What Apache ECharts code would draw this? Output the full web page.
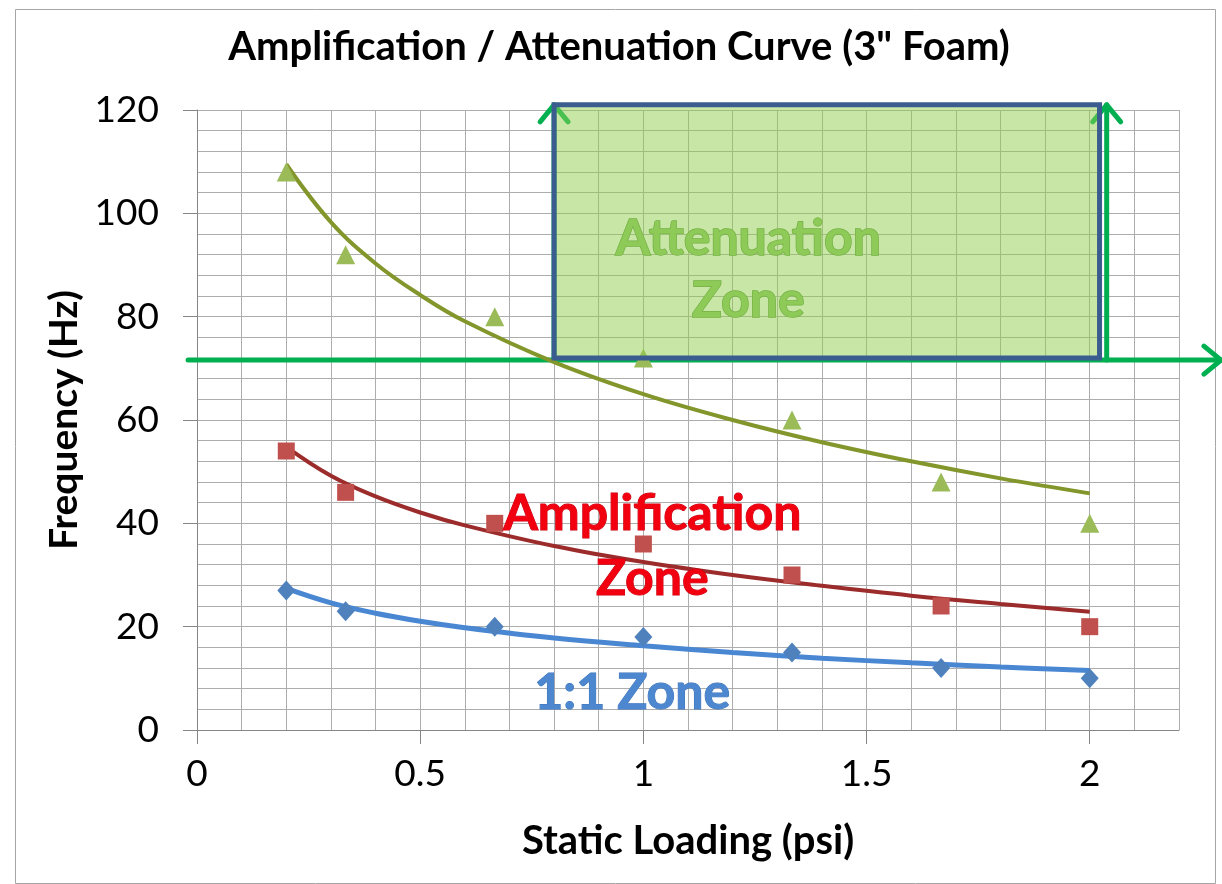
<!DOCTYPE html>
<html>
<head>
<meta charset="utf-8">
<script src="https://cdn.jsdelivr.net/npm/echarts@6/dist/echarts.min.js"></script>
<style>
html,body{margin:0;padding:0;background:#fff;}
#chart{width:1222px;height:884px;}
</style>
</head>
<body>
<div id="chart"></div>
<script>
// ---- data ----
const loadingPsi = [0.2, 0.333, 0.667, 1.0, 1.333, 1.667, 2.0];
const attenuationHz = [108, 92, 80, 72, 60, 48, 40];
const amplificationHz = [54, 46, 40, 36, 30, 24, 20];
const oneToOneHz = [27, 23, 20, 18, 15, 12, 10];

// trend curves
const trendX = [0.2, 0.3, 0.4, 0.5, 0.6, 0.8, 1.0, 1.2, 1.4, 1.6, 1.8, 2.0];
const attenuationTrend = [109.5, 98.3, 90.3, 84.2, 79.1, 71.2, 65.0, 60.0, 55.7, 52.0, 48.7, 45.8];
const amplificationTrend = [54.8, 49.2, 45.2, 42.1, 39.6, 35.6, 32.5, 30.0, 27.9, 26.0, 24.4, 22.9];
const oneToOneTrend = [27.4, 24.6, 22.6, 21.05, 19.8, 17.8, 16.3, 15.0, 13.9, 13.0, 12.2, 11.5];

// annotations (data units)
const zoneBox = [0.8, 72, 2.022, 121];
const zoneArrows = [
  [-0.02, 71.6, 2.294, 71.6],
  [0.8, 71.6, 0.8, 121],
  [2.038, 71.6, 2.038, 121]
];
const zoneTexts = ['Attenuation', 'Zone', 'Amplification', 'Zone', '1:1 Zone'];

const xTickLabels = [0, 0.5, 1, 1.5, 2];
const yTickLabels = [0, 20, 40, 60, 80, 100, 120];

const pairs = (xs, ys) => xs.map((x, i) => [x, ys[i]]);

const FONT = 'Lato, "Open Sans", sans-serif';
const labelStyles = [
  {fill: '#8DCA58', stroke: '#74B043', w: 1.4},
  {fill: '#8DCA58', stroke: '#74B043', w: 1.4},
  {fill: '#F20010', stroke: '#C40010', w: 1},
  {fill: '#F20010', stroke: '#C40010', w: 1},
  {fill: '#4C87CF', stroke: '#3E74B8', w: 1}
];

const gridColor = '#ADADAD';

const chart = echarts.init(document.getElementById('chart'), null, {renderer: 'canvas'});
const option = {
  backgroundColor: '#ffffff',
  animation: false,
  graphic: [{
    type: 'rect', left: 13, top: 7, silent: true,
    shape: {width: 1200, height: 874},
    style: {fill: 'none', stroke: '#A6A6A6', lineWidth: 1}
  }],
  title: {
    text: 'Amplification / Attenuation Curve (3" Foam)',
    left: 614, top: 22, textAlign: 'center',
    textStyle: {fontFamily: FONT, fontWeight: 'bold', fontSize: 40, color: '#000'}
  },
  grid: {left: 197, right: 43, top: 110, bottom: 154, containLabel: false},
  xAxis: [{
    type: 'value', min: 0, max: 2.2, interval: 0.1,
    name: 'Static Loading (psi)', nameLocation: 'middle', nameGap: 91,
    nameTextStyle: {fontFamily: FONT, fontWeight: 'bold', fontSize: 40, color: '#000'},
    axisLine: {show: true, onZero: false, lineStyle: {color: '#868686', width: 1}},
    axisTick: {show: true, length: 14, customValues: xTickLabels, lineStyle: {color: '#868686'}},
    axisLabel: {customValues: xTickLabels, margin: 26, fontFamily: FONT, fontSize: 37, color: '#000',
      formatter: v => String(v)},
    splitLine: {show: false}
  }, {
    type: 'value', min: 0, max: 2.2, interval: 0.1, position: 'bottom',
    axisLine: {show: false}, axisTick: {show: false}, axisLabel: {show: false},
    splitLine: {show: true, lineStyle: {color: gridColor, width: 1}}
  }],
  yAxis: [{
    type: 'value', min: 0, max: 120, interval: 4,
    name: 'Frequency (Hz)', nameLocation: 'middle', nameGap: 112, nameRotate: 90,
    nameTextStyle: {fontFamily: FONT, fontWeight: 'bold', fontSize: 39, color: '#000'},
    axisLine: {show: true, onZero: false, lineStyle: {color: '#868686', width: 1}},
    axisTick: {show: true, length: 14, customValues: yTickLabels, lineStyle: {color: '#868686'}},
    axisLabel: {customValues: yTickLabels, margin: 38, fontFamily: FONT, fontSize: 37, color: '#000'},
    splitLine: {show: false}
  }, {
    type: 'value', min: 0, max: 120, interval: 4, position: 'left',
    axisLine: {show: false}, axisTick: {show: false}, axisLabel: {show: false},
    splitLine: {show: true, lineStyle: {color: gridColor, width: 1}}
  }],
  series: [
    {
      type: 'custom', name: 'arrows', z: 3, clip: false, silent: true,
      data: zoneArrows,
      renderItem: (params, api) => {
        const p1 = api.coord([api.value(0), api.value(1)]);
        const p2 = api.coord([api.value(2), api.value(3)]);
        const dx = p2[0] - p1[0], dy = p2[1] - p1[1];
        const len = Math.sqrt(dx * dx + dy * dy);
        const ux = dx / len, uy = dy / len;
        const nx = -uy, ny = ux;
        const L = 17, W = 14;
        const a1 = [p2[0] - L * ux + W * nx, p2[1] - L * uy + W * ny];
        const a2 = [p2[0] - L * ux - W * nx, p2[1] - L * uy - W * ny];
        const st = {stroke: '#00B050', lineWidth: 5, fill: 'none', lineCap: 'round', lineJoin: 'round'};
        return {type: 'group', children: [
          {type: 'line', shape: {x1: p1[0], y1: p1[1], x2: p2[0], y2: p2[1]}, style: st},
          {type: 'polyline', shape: {points: [a1, p2, a2]}, style: st}
        ]};
      }
    },
    {
      type: 'line', name: 'Attenuation trend', z: 4, smooth: 0.4, showSymbol: false, silent: true,
      data: pairs(trendX, attenuationTrend),
      lineStyle: {color: '#82962C', width: 4}
    },
    {
      type: 'line', name: 'Amplification trend', z: 4, smooth: 0.4, showSymbol: false, silent: true,
      data: pairs(trendX, amplificationTrend),
      lineStyle: {color: '#9C2B2B', width: 4}
    },
    {
      type: 'line', name: '1:1 trend', z: 4, smooth: 0.4, showSymbol: false, silent: true,
      data: pairs(trendX, oneToOneTrend),
      lineStyle: {color: '#4A87D2', width: 5}
    },
    {
      type: 'scatter', name: 'Attenuation', z: 5, symbol: 'triangle', symbolSize: 19,
      data: pairs(loadingPsi, attenuationHz),
      itemStyle: {color: '#9BBB59', opacity: 1}
    },
    {
      type: 'scatter', name: 'Amplification', z: 5, symbol: 'rect', symbolSize: 17,
      data: pairs(loadingPsi, amplificationHz),
      itemStyle: {color: '#C0504D', opacity: 1}
    },
    {
      type: 'scatter', name: '1:1', z: 5, symbol: 'diamond', symbolSize: [18, 20],
      data: pairs(loadingPsi, oneToOneHz),
      itemStyle: {color: '#4F81BD', opacity: 1}
    },
    {
      type: 'custom', name: 'zone box', z: 6, clip: false, silent: true,
      data: [zoneBox],
      renderItem: (params, api) => {
        const a = api.coord([api.value(0), api.value(3)]);
        const b = api.coord([api.value(2), api.value(1)]);
        return {type: 'rect', shape: {x: a[0], y: a[1], width: b[0] - a[0], height: b[1] - a[1]},
          style: {fill: 'rgba(146,208,80,0.5)', stroke: '#3B5C8E', lineWidth: 5}};
      }
    },
    {
      type: 'custom', name: 'zone labels', z: 7, clip: false, silent: true,
      data: [[1.235, 95.1], [1.235, 83.0], [1.02, 41.9], [1.02, 29.3], [0.975, 7.1]],
      renderItem: (params, api) => {
        const p = api.coord([api.value(0), api.value(1)]);
        const s = labelStyles[params.dataIndex];
        return {type: 'text', x: p[0], y: p[1], style: {
          text: zoneTexts[params.dataIndex], fill: s.fill, stroke: s.stroke, lineWidth: s.w,
          fontFamily: FONT, fontWeight: 'bold', fontSize: 50,
          align: 'center', verticalAlign: 'middle'
        }};
      }
    }
  ]
};
chart.setOption(option);
</script>
</body>
</html>
